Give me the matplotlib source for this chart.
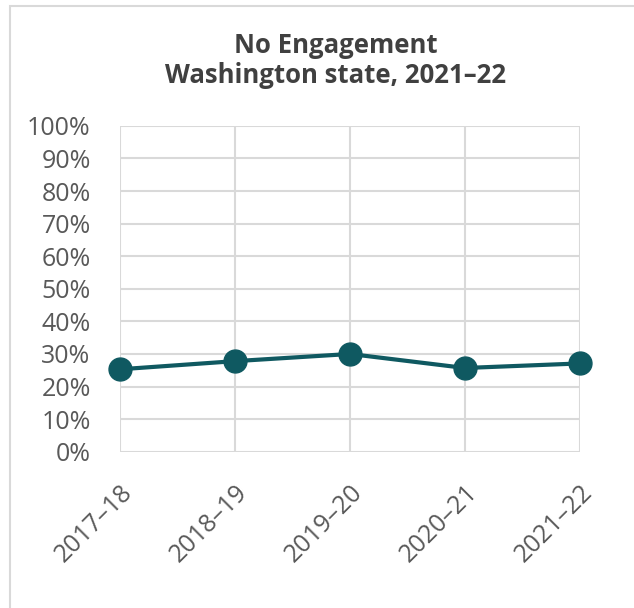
import matplotlib.pyplot as plt
from matplotlib.patches import Rectangle

plt.rcParams['font.family'] = ['Open Sans', 'DejaVu Sans']

years = ["2017–18", "2018–19", "2019–20", "2020–21", "2021–22"]
no_engagement = [25.3, 27.8, 30.0, 25.7, 27.1]
y_ticks = list(range(0, 101, 10))

line_color = "#0f5961"
grid_color = "#d9d9d9"
text_color = "#595959"

fig = plt.figure(figsize=(6.34, 6.08), dpi=100)
ax = fig.add_axes([0.189, 0.257, 0.726, 0.536])

# chart frame, runs off the right and bottom edges
fig.patches.append(Rectangle((10 / 634, -0.1), 1.2, 1 - 6 / 608 + 0.1,
                             transform=fig.transFigure, fill=False,
                             edgecolor=grid_color, linewidth=1.5))

x = list(range(len(years)))
ax.plot(x, no_engagement, color=line_color, linewidth=3, marker="o",
        markersize=16.5, zorder=3, clip_on=False)

ax.set_xlim(0, len(years) - 1)
ax.set_ylim(0, 100)
ax.set_yticks(y_ticks)
ax.set_yticklabels([f"{v}%" for v in y_ticks])
ax.set_xticks(x)
ax.set_xticklabels(years, rotation=45, ha="right", rotation_mode="anchor")

ax.grid(True, color=grid_color, linewidth=1.5)
ax.set_axisbelow(True)
for s in ax.spines.values():
    s.set_visible(False)
ax.tick_params(length=0, labelsize=18, labelcolor=text_color)
ax.tick_params(axis="x", pad=20)
ax.tick_params(axis="y", pad=21)

fig.text(0.530, 1 - 53 / 608, "No Engagement", ha="center", va="baseline",
         fontsize=18.5, fontweight="bold", color="#404040")
fig.text(0.530, 1 - 83 / 608, "Washington state, 2021–22", ha="center",
         va="baseline", fontsize=18.5, fontweight="bold", color="#404040")

fig.savefig("out.png", dpi=100)
